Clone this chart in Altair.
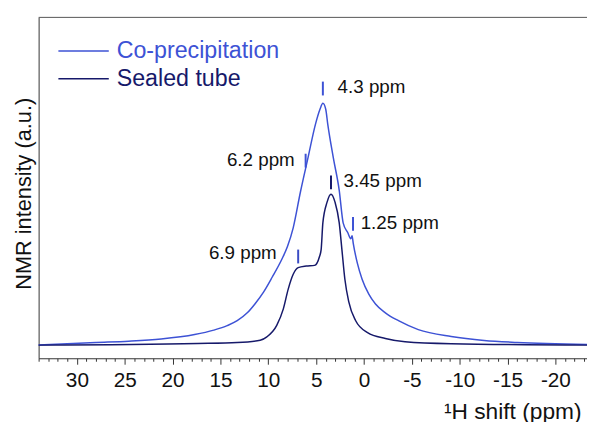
import pandas as pd
import altair as alt

# spectra: shift (ppm) and intensity (a.u.)
copre_ppm = [34.0, 28.0, 24.6, 21.2, 17.7, 15.7, 14.3, 13.25, 12.2, 11.4, 10.5, 9.6, 8.6, 8.0, 7.4,
             6.65, 5.85, 5.07, 4.6, 4.3, 4.0, 3.79, 3.21, 2.59, 2.18, 1.69, 1.38, 1.25, 1.12, 0.69,
             0.2, -0.5, -1.2, -2.23, -3.6, -5.67, -9.11, -12.55, -16.0, -23.3]
copre_int = [13.5, 16, 17.3, 19.5, 24, 28.5, 33, 38, 46, 55, 67, 82, 100, 113, 132,
             168, 203, 237, 252, 258, 252, 237, 203, 170, 137, 127, 121, 124, 116, 96,
             80, 65, 55, 46, 38, 29, 22, 18, 16, 14]

sealed_ppm = [34.0, 17.4, 13.25, 10.85, 10.15, 9.12, 8.43, 7.92, 7.40, 6.88, 6.03, 5.17, 4.65, 4.48,
              4.30, 3.86, 3.45, 3.03, 2.59, 2.31, 2.0, 1.59, 0.87, -0.37, -2.23, -4.29, -9.11, -23.3]
sealed_int = [13.3, 15, 16, 18.3, 21.7, 33.3, 50, 70, 85, 91.7, 93.3, 94, 103, 110,
              137, 158, 166, 158, 137, 110, 80, 57, 38, 26, 20, 16.7, 14.7, 13.3]

series = ["Co-precipitation", "Sealed tube"]
colors = ["#3d52d5", "#16196a"]

# peak markers and their labels
peak_labels = ["4.3 ppm", "6.2 ppm", "3.45 ppm", "1.25 ppm", "6.9 ppm"]
peak_ppm = [4.3, 6.1, 3.45, 1.15, 6.88]
peak_int = [273, 200, 178, 136, 103]
peak_color = ["#3d52d5", "#3d52d5", "#16196a", "#3d52d5", "#3a4cc4"]
label_ppm = [2.76, 7.24, 2.14, 0.35, 9.12]
label_int = [274, 201, 179, 137, 106]
label_side = ["left", "right", "left", "left", "right"]

x_ticks = list(range(-23, 35))

FONT = "Liberation Sans"

spec = pd.concat([
    pd.DataFrame({"ppm": copre_ppm, "intensity": copre_int, "series": series[0]}),
    pd.DataFrame({"ppm": sealed_ppm, "intensity": sealed_int, "series": series[1]}),
])
peaks = pd.DataFrame({"label": peak_labels, "ppm": peak_ppm, "lo": [v - 7 for v in peak_int],
                      "hi": [v + 7 for v in peak_int], "color": peak_color,
                      "lx": label_ppm, "ly": label_int, "side": label_side})

x_scale = alt.Scale(domain=[-23.3, 34.0], reverse=True, nice=False, zero=False)
y_scale = alt.Scale(domain=[0, 345], nice=False, zero=False)

lines = alt.Chart(spec).mark_line(strokeWidth=1.5, interpolate="monotone").encode(
    x=alt.X("ppm:Q", scale=x_scale, axis=alt.Axis(
        values=x_ticks, tickCount=200,
        labelExpr="datum.value % 5 === 0 ? '' + datum.value : ''",
        labelOverlap=False, labelFlush=False,
        tickSize={"condition": {"test": "datum.value % 5 === 0", "value": 6}, "value": 3},
        labelPadding=6, labelFontSize=21,
        title="¹H shift (ppm)", titleX=549, titleAlign="right", titlePadding=10,
        titleFontSize=23, grid=False)),
    y=alt.Y("intensity:Q", scale=y_scale, axis=alt.Axis(
        ticks=False, labels=False, grid=False,
        title="NMR intensity (a.u.)", titleFontSize=22, titlePadding=3, titleY=178)),
    color=alt.Color("series:N", scale=alt.Scale(domain=series, range=colors), legend=None),
)

top_line = alt.Chart(pd.DataFrame({"a": [0]})).mark_rule(color="#555", strokeWidth=1).encode(
    y=alt.datum(345)
)

markers = alt.Chart(peaks).mark_rule(strokeWidth=2).encode(
    x="ppm:Q", y="lo:Q", y2="hi:Q", color=alt.Color("color:N", scale=None)
)

labels_left = alt.Chart(peaks).transform_filter("datum.side == 'left'").mark_text(
    align="left", baseline="middle", fontSize=19, font=FONT, color="#111"
).encode(x="lx:Q", y="ly:Q", text="label:N")

labels_right = alt.Chart(peaks).transform_filter("datum.side == 'right'").mark_text(
    align="right", baseline="middle", fontSize=19, font=FONT, color="#111"
).encode(x="lx:Q", y="ly:Q", text="label:N")

legend = []
for i, (name, col) in enumerate(zip(series, colors)):
    one = alt.Chart(pd.DataFrame({"a": [0]}))
    legend.append(one.mark_rule(color=col, strokeWidth=1.5).encode(
        x=alt.value(20), x2=alt.value(71), y=alt.value(34 + 28 * i)))
    legend.append(one.mark_text(text=name, color=col, fontSize=23.5, font=FONT,
                                align="left", baseline="middle").encode(
        x=alt.value(79), y=alt.value(34 + 28 * i)))

chart = alt.layer(lines, top_line, markers, labels_left, labels_right, *legend).properties(
    width=555, height=345,
    padding={"left": 31, "top": 7, "right": 0, "bottom": 62},
    autosize=alt.AutoSizeParams(type="none"),
).configure_view(stroke=None).configure_axis(
    domainColor="#333", tickColor="#333", labelColor="#111", titleColor="#111",
    labelFont=FONT, titleFont=FONT, titleFontWeight="normal",
)

chart.save("out.html", embed_options={"renderer": "svg", "actions": False})
